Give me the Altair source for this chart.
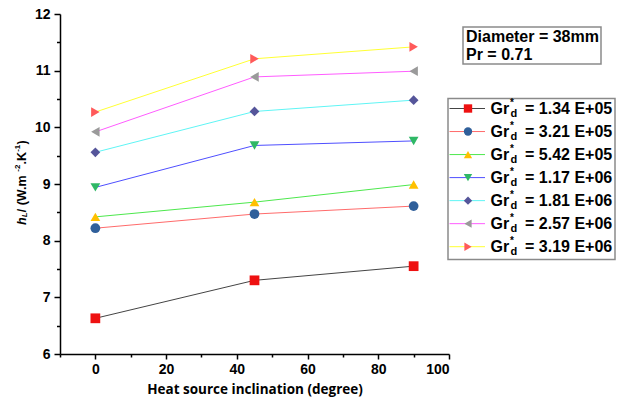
import altair as alt
import pandas as pd

# Heat transfer coefficient h_L versus inclination for several modified Grashof numbers
angles = [0, 45, 90]
gr_labels = ["1.34 E+05", "3.21 E+05", "5.42 E+05", "1.17 E+06",
             "1.81 E+06", "2.57 E+06", "3.19 E+06"]
h_gr1 = [6.63, 7.30, 7.55]
h_gr2 = [8.22, 8.47, 8.61]
h_gr3 = [8.42, 8.68, 8.99]
h_gr4 = [8.94, 9.68, 9.76]
h_gr5 = [9.56, 10.28, 10.48]
h_gr6 = [9.92, 10.89, 10.99]
h_gr7 = [10.27, 11.21, 11.42]
h_all = [h_gr1, h_gr2, h_gr3, h_gr4, h_gr5, h_gr6, h_gr7]

line_colors = ["#444444", "#ff6b6b", "#4de84d", "#4f4fff", "#5ff5f5", "#ff5cff", "#ffff33"]
marker_colors = ["#ee1111", "#2f5f9a", "#ffc000", "#2fb866", "#55559a", "#9a9a9a", "#ff5a5a"]
marker_shapes = ["square", "circle", "triangle-up", "triangle-down",
                 "diamond", "triangle-left", "triangle-right"]

rows = []
for label, hs in zip(gr_labels, h_all):
    for a, h in zip(angles, hs):
        rows.append({"series": label, "angle": a, "h": h})
df = pd.DataFrame(rows)

FONT = "Liberation Sans"

color_enc = alt.Color("series:N", scale=alt.Scale(domain=gr_labels, range=line_colors), legend=None)
fill_enc = alt.Fill("series:N", scale=alt.Scale(domain=gr_labels, range=marker_colors), legend=None)
shape_enc = alt.Shape("series:N", scale=alt.Scale(domain=gr_labels, range=marker_shapes), legend=None)

x_scale = alt.Scale(domain=[-10, 100], nice=False, zero=False)
y_scale = alt.Scale(domain=[6, 12], nice=False, zero=False)

axis_common = dict(domainColor="black", domainWidth=1.5, tickColor="black", tickWidth=1.5,
                   labelFont=FONT, labelFontWeight="bold", labelFontSize=14, labelColor="black",
                   grid=False)

x_main = alt.X("angle:Q", scale=x_scale,
               axis=alt.Axis(values=[0, 20, 40, 60, 80, 100], tickSize=5, labelPadding=3,
                             title="Heat source inclination (degree)", titleFont="Open Sans",
                             titleFontWeight="bold", titleFontSize=13.5, titleColor="black",
                             titlePadding=6, **axis_common))
y_main = alt.Y("h:Q", scale=y_scale,
               axis=alt.Axis(values=[6, 7, 8, 9, 10, 11, 12], tickSize=6, labelPadding=4,
                             format="d", title=None, **axis_common))

lines = alt.Chart(df).mark_line(strokeWidth=1).encode(
    x=x_main, y=y_main, color=color_enc, order="angle:Q")

points = alt.Chart(df).mark_point(filled=True, size=95, opacity=1, strokeWidth=0).encode(
    x=alt.X("angle:Q", scale=x_scale, axis=None),
    y=alt.Y("h:Q", scale=y_scale, axis=None),
    fill=fill_enc, shape=shape_enc)

minor_ticks = alt.Chart(df).mark_point(opacity=0).encode(
    x=alt.X("angle:Q", scale=x_scale,
            axis=alt.Axis(values=[-10, 10, 30, 50, 70, 90], labels=False, domain=False,
                          tickSize=3, tickColor="black", tickWidth=1.5, grid=False,
                          title=None, orient="bottom")),
    y=alt.Y("h:Q", scale=y_scale,
            axis=alt.Axis(values=[6.5, 7.5, 8.5, 9.5, 10.5, 11.5], labels=False, domain=False,
                          tickSize=3.5, tickColor="black", tickWidth=1.5, grid=False,
                          title=None, orient="left")))

plot = alt.layer(lines, points, minor_ticks).resolve_axis(x="independent", y="independent")

# Legend built from the same series scales
leg_df = pd.DataFrame({"row": list(range(len(gr_labels))), "series": gr_labels,
                       "label": ["= " + s for s in gr_labels]})
ly = alt.Y("row:Q", scale=alt.Scale(domain=[0, 6], range=[94.5, 232.7]), axis=None)
leg_base = alt.Chart(leg_df)

leg_frame = alt.Chart(pd.DataFrame({"k": [0]})).mark_rect(
    fill="white", stroke="#8a8a8a", strokeWidth=1.5).encode(
    x=alt.value(388), x2=alt.value(555), y=alt.value(84.5), y2=alt.value(245.5))
leg_rules = leg_base.mark_rule(strokeWidth=1).encode(
    x=alt.value(389.5), x2=alt.value(425), y=ly, color=color_enc)
leg_pts = leg_base.mark_point(filled=True, size=70, opacity=1, strokeWidth=0).encode(
    x=alt.value(408), y=ly, fill=fill_enc, shape=shape_enc)
leg_gr = leg_base.mark_text(text="Gr", align="left", baseline="middle", font=FONT,
                            fontWeight="bold", fontSize=16, color="black").encode(
    x=alt.value(430.5), y=ly)
leg_star = leg_base.mark_text(text="*", align="left", baseline="middle", font=FONT,
                              fontWeight="bold", fontSize=10, color="black", dx=19.5, dy=-6).encode(
    x=alt.value(430.5), y=ly)
leg_sub = leg_base.mark_text(text="d", align="left", baseline="middle", font=FONT,
                             fontWeight="bold", fontSize=11, color="black", dx=20, dy=5).encode(
    x=alt.value(430.5), y=ly)
leg_val = leg_base.mark_text(align="left", baseline="middle", font=FONT,
                             fontWeight="bold", fontSize=16, color="black", dx=34.5).encode(
    x=alt.value(430.5), y=ly, text="label:N")

legend = alt.layer(leg_frame, leg_rules, leg_pts, leg_gr, leg_star, leg_sub, leg_val)

# Parameter box
one = pd.DataFrame({"k": [0]})
info_frame = alt.Chart(one).mark_rect(fill="white", stroke="#8a8a8a", strokeWidth=1.5).encode(
    x=alt.value(403), x2=alt.value(541), y=alt.value(13), y2=alt.value(50))
info_l1 = alt.Chart(one).mark_text(text="Diameter = 38mm", align="left", baseline="middle",
                                   font=FONT, fontWeight="bold", fontSize=16, color="black").encode(
    x=alt.value(406), y=alt.value(23))
info_l2 = alt.Chart(one).mark_text(text="Pr = 0.71", align="left", baseline="middle",
                                   font=FONT, fontWeight="bold", fontSize=16, color="black").encode(
    x=alt.value(406), y=alt.value(40.5))

# Rotated y-axis title with subscript and superscripts
title_pieces = [
    ("h", 12.5, 0.0, 0, "italic"),
    ("L", 8, 7.8, 3, "italic"),
    (" / (W.m", 12.5, 12.7, 0, "normal"),
    ("-2", 8, 53.3, -4, "normal"),
    (".K", 12.5, 60.6, 0, "normal"),
    ("-1", 8, 73.2, -4, "normal"),
    (")", 12.5, 80.4, 0, "normal"),
]
ytitle_layers = []
for txt, fs, dx, dy, style in title_pieces:
    ytitle_layers.append(
        alt.Chart(one).mark_text(text=txt, align="left", baseline="middle", angle=270,
                                 font=FONT, fontWeight="bold", fontStyle=style, fontSize=fs,
                                 color="black", dx=dx, dy=dy).encode(
            x=alt.value(-38), y=alt.value(211)))

chart = alt.layer(plot, legend, info_frame, info_l1, info_l2, *ytitle_layers).resolve_scale(
    x="independent", y="independent"
).properties(
    width=389, height=340,
    autosize=alt.AutoSizeParams(type="none"),
    padding={"left": 60, "top": 14, "right": 169, "bottom": 46},
    background="white",
).configure_view(stroke=None)

chart.save("out.html", embed_options={"renderer": "svg", "actions": False})
